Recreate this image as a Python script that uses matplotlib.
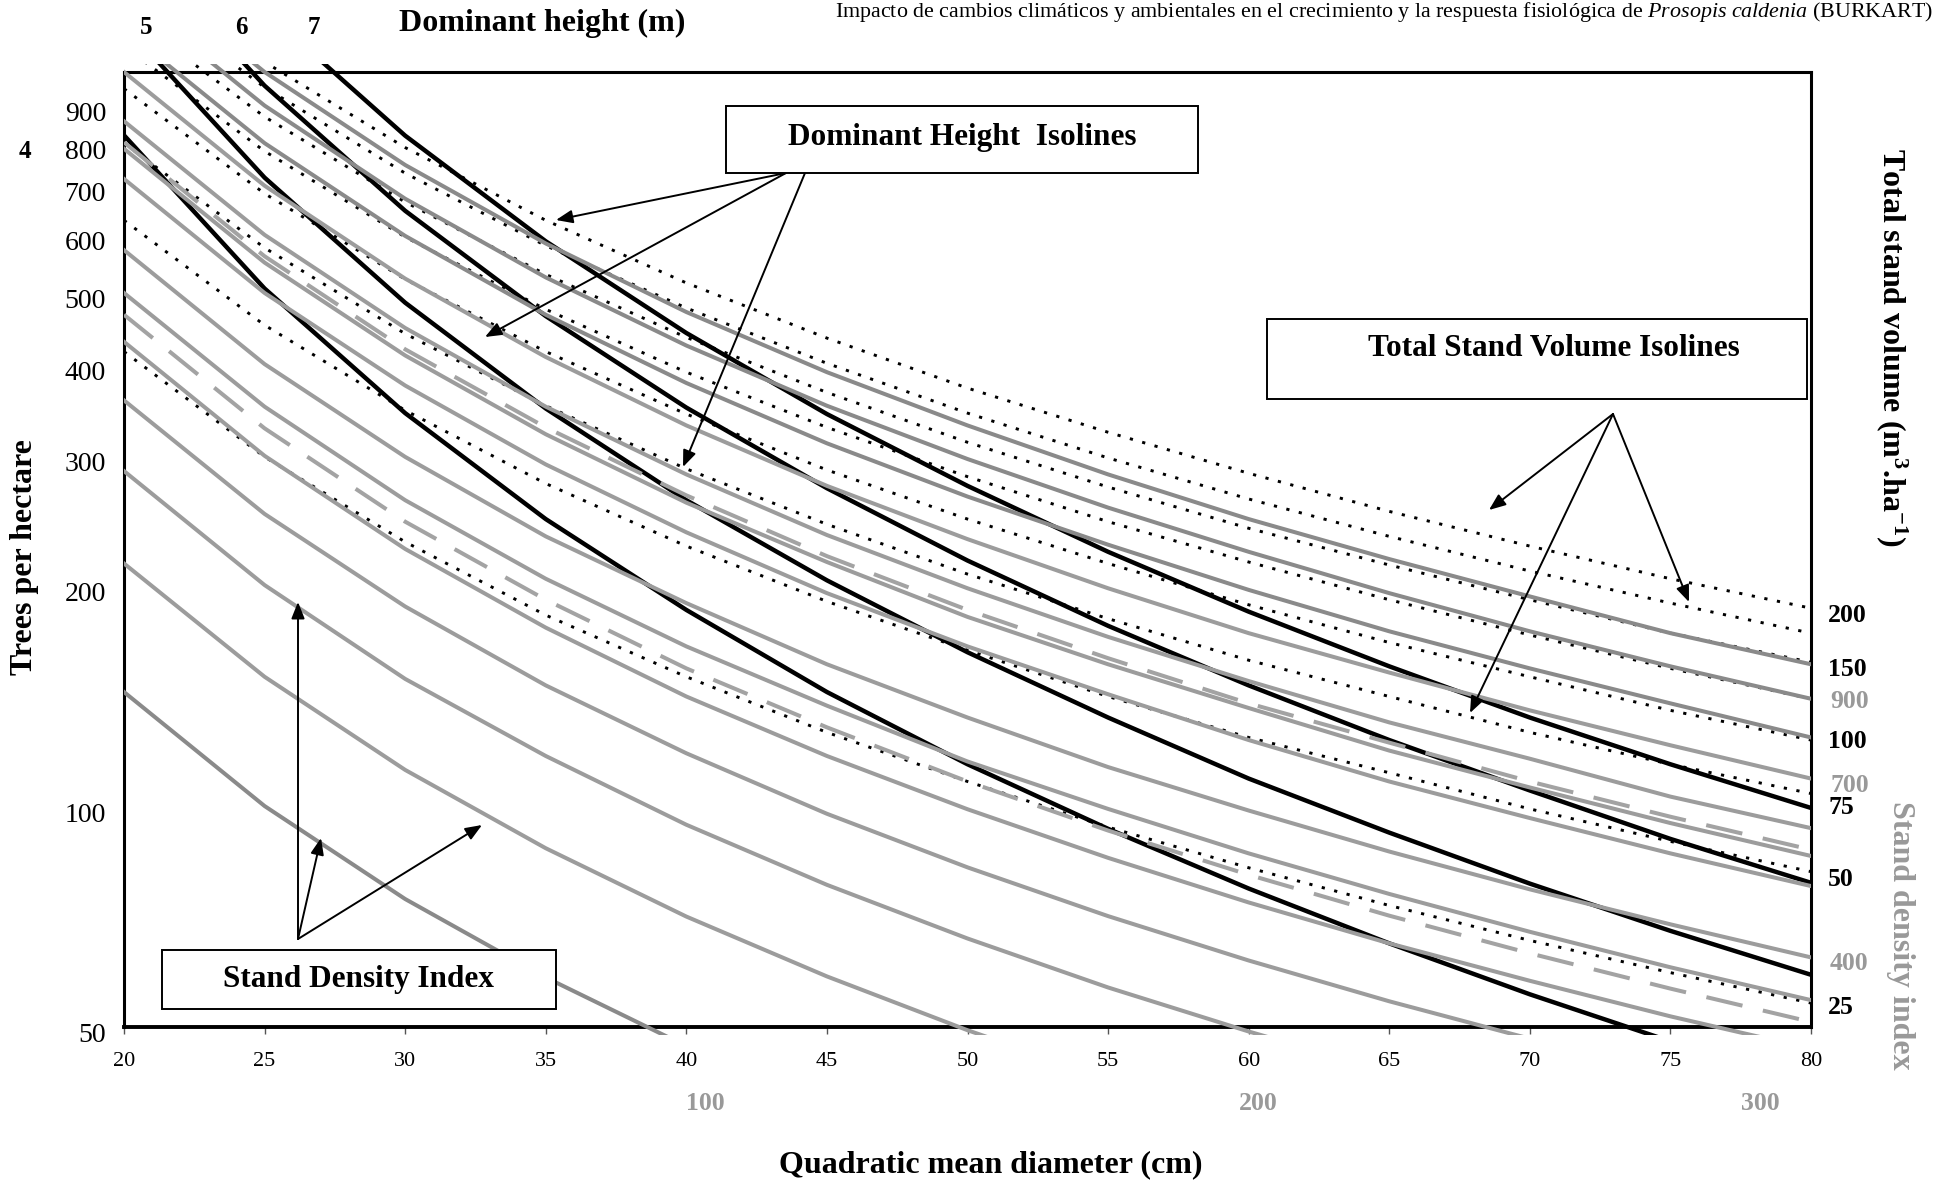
import matplotlib
matplotlib.use('Agg')
import matplotlib.pyplot as plt
from matplotlib.patches import Rectangle
from matplotlib.ticker import NullLocator

plt.rcParams['font.family'] = 'Liberation Serif'
plt.rcParams['mathtext.fontset'] = 'custom'
plt.rcParams['mathtext.rm'] = 'Liberation Serif'
plt.rcParams['mathtext.it'] = 'Liberation Serif:italic'
plt.rcParams['mathtext.bf'] = 'Liberation Serif:bold'

# quadratic mean diameter (cm), one point every 5 cm
diam = [20, 25, 30, 35, 40, 45, 50, 55, 60, 65, 70, 75, 80]

# stand density index isolines (trees per hectare at each diameter)
sdi_levels = [100, 150, 200, 250, 300, 350, 400, 500, 550, 600, 700, 800, 900, 1000]
sdi_trees = [
    [143, 100, 74.7, 58.4, 47.1, 39.0, 33.0, 28.3, 24.6, 21.7, 19.3, 17.2, 15.6],
    [214, 150, 112, 87.6, 70.7, 58.6, 49.5, 42.5, 37.0, 32.5, 28.9, 25.9, 23.3],
    [286, 200, 149, 117, 94.3, 78.1, 66.0, 56.6, 49.3, 43.4, 38.5, 34.5, 31.1],
    [357, 250, 187, 146, 118, 97.6, 82.5, 70.8, 61.6, 54.2, 48.2, 43.1, 38.9],
    [429, 300, 224, 175, 141, 117, 99.0, 85.0, 73.9, 65.0, 57.8, 51.7, 46.7],
    [500, 350, 261, 204, 165, 137, 115, 99.1, 86.2, 75.9, 67.4, 60.3, 54.4],
    [572, 400, 299, 233, 189, 156, 132, 113, 98.6, 86.7, 77.0, 69.0, 62.2],
    [715, 500, 374, 292, 236, 195, 165, 142, 123, 108, 96.3, 86.2, 77.8],
    [786, 550, 411, 321, 259, 215, 181, 156, 136, 119, 106, 94.8, 85.5],
    [857, 600, 448, 350, 283, 234, 198, 170, 148, 130, 116, 103, 93.3],
    [1000, 700, 523, 409, 330, 273, 231, 198, 172, 152, 135, 121, 109],
    [1143, 800, 598, 467, 377, 312, 264, 227, 197, 173, 154, 138, 124],
    [1286, 900, 672, 525, 424, 351, 297, 255, 222, 195, 173, 155, 140],
    [1429, 1000, 747, 584, 471, 390, 330, 283, 246, 217, 193, 172, 156],
]
# dashed limits of the management zone
zone_lower = [467, 327, 244, 191, 154, 128, 108, 92.6, 80.6, 70.9, 63.0, 56.4, 50.8]
zone_upper = [802, 561, 419, 328, 265, 219, 185, 159, 138, 122, 108, 96.7, 87.2]

# total stand volume isolines (m3/ha)
vol_levels = [25, 50, 75, 100, 125, 150, 175, 200]
vol_trees = [
    [416, 299, 229, 182, 150, 126, 108, 93.6, 82.4, 73.2, 65.6, 59.3, 53.9],
    [628, 452, 346, 275, 226, 190, 163, 141, 124, 111, 99.1, 89.5, 81.4],
    [800, 576, 440, 351, 288, 242, 207, 180, 158, 141, 126, 114, 104],
    [949, 683, 522, 416, 342, 287, 246, 214, 188, 167, 150, 135, 123],
    [1084, 780, 596, 475, 390, 328, 281, 244, 215, 191, 171, 154, 140],
    [1208, 869, 665, 530, 435, 366, 313, 272, 239, 213, 191, 172, 157],
    [1324, 953, 728, 580, 477, 401, 343, 298, 262, 233, 209, 189, 172],
    [1434, 1032, 789, 628, 516, 434, 371, 323, 284, 252, 226, 204, 186],
]

# dominant height isolines (m)
height_levels = [4, 5, 6, 7]
height_trees = [
    [820, 507, 343, 246, 185, 143, 114, 93.1, 77.2, 65.0, 55.4, 47.8, 41.6],
    [1160, 718, 485, 348, 261, 203, 162, 132, 109, 92.0, 78.4, 67.6, 58.9],
    [1548, 958, 647, 465, 349, 271, 216, 176, 146, 123, 105, 90.2, 78.6],
    [1958, 1212, 819, 588, 441, 342, 273, 222, 184, 155, 132, 114, 99.4],
]

y_ticks = [50, 100, 200, 300, 400, 500, 600, 700, 800, 900]

W, H = 1937, 1186
GRAY = '#999999'


def fx(x):
    return x / W


def fy(y):
    return 1 - y / H


fig = plt.figure(figsize=(W / 100, H / 100), dpi=100)
ax = fig.add_axes([fx(124), fy(1027), (1811 - 124) / W, (1027 - 72) / H])
ax.set_yscale('log')
ax.set_xlim(20, 80)
ax.set_ylim(50, 1000)

# lines poke a few pixels outside the frame, like the original
clip = Rectangle((0, -0.008), 1, 1.016, transform=ax.transAxes)


def draw(y, **kw):
    ln, = ax.plot(diam, y, **kw)
    ln.set_clip_path(clip)


for v, y in zip(vol_levels, vol_trees):
    draw(y, color='black', lw=2.1, dashes=(1.1, 3.3), zorder=2)
for h, y in zip(height_levels, height_trees):
    draw(y, color='black', lw=3.2, zorder=3)
for s, y in zip(sdi_levels, sdi_trees):
    c = '#8a8a8a' if s in (100, 800, 900, 1000) else '#9c9c9c'
    draw(y, color=c, lw=2.9, zorder=4)
for y in (zone_lower, zone_upper):
    draw(y, color='#a3a3a3', lw=2.9, dashes=(9.2, 5.2), zorder=4.5)

for side in ('left', 'top', 'right'):
    ax.spines[side].set_linewidth(2.2)
ax.spines['bottom'].set_linewidth(2.8)

ax.set_xticks(list(range(20, 81, 5)))
ax.xaxis.set_minor_locator(NullLocator())
ax.tick_params(axis='x', direction='out', length=5, width=1.0, color='#555555',
               labelsize=16, pad=13)
ax.yaxis.set_major_locator(NullLocator())
ax.yaxis.set_minor_locator(NullLocator())
for v in y_ticks:
    ax.annotate(str(v), xy=(0, v), xycoords=('axes fraction', 'data'),
                xytext=(-18, -9), textcoords='offset pixels',
                ha='right', va='center', fontsize=20, annotation_clip=False)

# axis titles
fig.text(fx(991), fy(1165), 'Quadratic mean diameter (cm)', ha='center', va='center',
         fontsize=23, fontweight='bold')
fig.text(fx(25), fy(557), 'Trees per hectare', ha='center', va='center',
         rotation=90, fontsize=23, fontweight='bold')
fig.text(fx(1892), fy(347), r'Total stand volume (m$^{\mathbf{3}}$.ha$^{\mathbf{-1}}$)',
         ha='center', va='center', rotation=-90, fontsize=23, fontweight='bold')
fig.text(fx(1900), fy(935), 'Stand density index', ha='center', va='center',
         rotation=-90, fontsize=23, fontweight='bold', color=GRAY)
fig.text(fx(542), fy(23), 'Dominant height (m)', ha='center', va='center',
         fontsize=23, fontweight='bold')
fig.text(fx(1933), fy(12),
         r'Impacto de cambios climáticos y ambientales en el crecimiento y la respuesta '
         r'fisiológica de $\mathit{Prosopis\ caldenia}$ (BURKART)',
         ha='right', va='center', fontsize=15.8)

# height labels
for lab, x, y in (('4', 25, 151), ('5', 146, 28), ('6', 241, 28), ('7', 314, 28)):
    fig.text(fx(x), fy(y), lab, ha='center', va='center', fontsize=18, fontweight='bold')

# volume labels (black) and density labels (gray) on the right
for lab, y in (('200', 615), ('150', 670), ('100', 741), ('75', 808), ('50', 880), ('25', 1008)):
    fig.text(fx(1828), fy(y), lab, ha='left', va='center', fontsize=18.5, fontweight='bold')
for lab, y in (('900', 702), ('700', 785), ('400', 963)):
    fig.text(fx(1830), fy(y), lab, ha='left', va='center', fontsize=18.5,
             fontweight='bold', color=GRAY)
for lab, x in (('100', 705), ('200', 1258), ('300', 1760)):
    fig.text(fx(x), fy(1104), lab, ha='center', va='center', fontsize=18.5,
             fontweight='bold', color=GRAY)

# annotation boxes
boxes = [
    ('Dominant Height  Isolines', (726, 106, 1198, 173), (962, 137)),
    ('Total Stand Volume Isolines', (1267, 319, 1807, 399), (1554, 348)),
    ('Stand Density Index', (162, 950, 556, 1009), (358, 980)),
]
for text, (x0, y0, x1, y1), (tx, ty) in boxes:
    fig.add_artist(Rectangle((fx(x0), fy(y1)), (x1 - x0) / W, (y1 - y0) / H,
                             transform=fig.transFigure, facecolor='white',
                             edgecolor='black', lw=1.4, zorder=10))
    fig.text(fx(tx), fy(ty), text, ha='center', va='center', fontsize=22.5,
             fontweight='bold', zorder=11)

arrows = [
    ((786, 173), (556, 220)), ((786, 173), (485, 337)), ((805, 173), (683, 467)),
    ((1613, 414), (1489, 510)), ((1613, 414), (1689, 602)), ((1613, 414), (1470, 713)),
    ((298, 939), (298, 602)), ((298, 939), (321, 838)), ((298, 939), (482, 825)),
]
for (sx, sy), (ex, ey) in arrows:
    ax.annotate('', xy=(ex, H - ey), xycoords='figure pixels',
                xytext=(sx, H - sy), textcoords='figure pixels',
                arrowprops=dict(arrowstyle='-|>,head_length=0.5,head_width=0.2',
                                color='black', lw=1.4, mutation_scale=20,
                                shrinkA=0, shrinkB=0),
                zorder=12)

fig.savefig('out.png', dpi=100)
